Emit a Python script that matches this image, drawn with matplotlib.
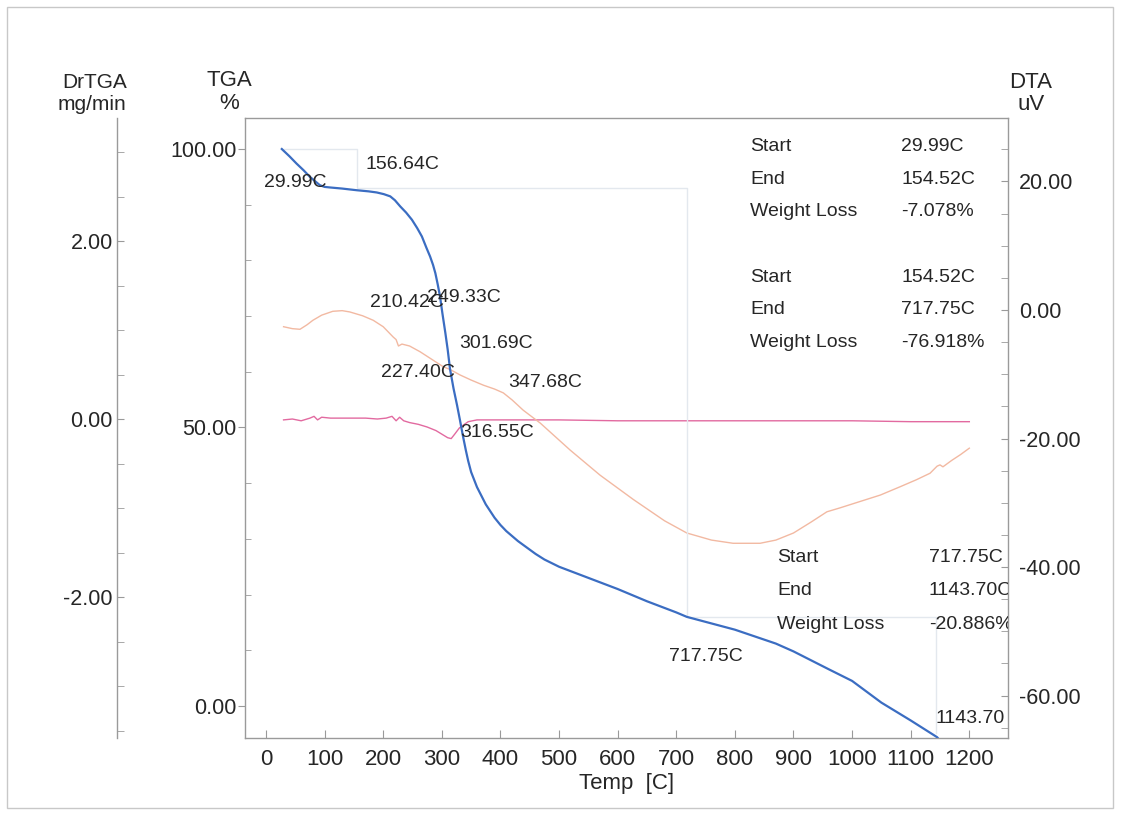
"""
TGA / DTA / DrTGA 热分析曲线
用法: python plot.py
"""
import matplotlib
matplotlib.use("Agg")
import matplotlib.pyplot as plt
from matplotlib.patches import Rectangle
from matplotlib.ticker import MultipleLocator, FixedLocator, FormatStrFormatter

# TGA 失重曲线 (温度 C, 质量 %)
tga_temp = [27, 40, 52, 64, 75, 84, 92, 100, 109, 130, 155, 175, 189, 201,
            212, 220, 229, 239, 249, 258, 266, 274, 280, 285, 289, 293, 297,
            301, 306, 310, 314, 320, 326, 331, 336, 341, 345, 350, 360, 375,
            390, 400, 410, 430, 460, 475, 500, 550, 600, 650, 700, 718, 800,
            870, 900, 960, 1000, 1050, 1100, 1145, 1152]
tga_pct = [100.0, 98.7, 97.4, 96.2, 95.0, 94.2, 93.5, 93.2, 93.1, 92.9, 92.6,
           92.4, 92.2, 91.9, 91.5, 90.8, 89.7, 88.6, 87.3, 85.8, 84.3, 82.2,
           80.7, 79.2, 77.7, 75.7, 73.5, 70.5, 67.0, 64.0, 60.5, 57.0, 54.0,
           51.3, 48.5, 45.9, 44.0, 42.0, 39.3, 36.2, 33.8, 32.5, 31.4, 29.6,
           27.3, 26.3, 25.0, 23.0, 21.0, 18.8, 16.8, 16.0, 13.7, 11.2, 9.8,
           6.6, 4.5, 0.6, -2.6, -5.6, -6.5]

# DTA 曲线 (uV)
dta_temp = [30, 45, 58, 70, 80, 95, 114, 130, 143, 165, 183, 200, 217, 222,
            226, 232, 245, 263, 285, 302, 315, 331, 350, 371, 390, 405, 420,
            439, 468, 519, 570, 627, 680, 718, 760, 797, 843, 870, 900, 930,
            957, 979, 1010, 1048, 1082, 1110, 1133, 1145, 1150, 1155, 1170,
            1185, 1200]
dta_uv = [-2.6, -2.9, -3.0, -2.3, -1.6, -0.8, -0.2, -0.1, -0.3, -0.9, -1.6,
          -2.6, -4.2, -4.6, -5.6, -5.3, -5.6, -6.5, -7.8, -8.8, -9.3, -10.1,
          -10.9, -11.7, -12.3, -12.9, -14.0, -15.6, -17.6, -21.8, -25.7,
          -29.5, -32.8, -34.7, -35.8, -36.3, -36.3, -35.8, -34.7, -33.0,
          -31.4, -30.8, -29.9, -28.8, -27.5, -26.4, -25.4, -24.3, -24.1,
          -24.4, -23.4, -22.5, -21.5]

# DrTGA 微分曲线 (mg/min)
drtga_temp = [30, 45, 60, 75, 82, 88, 95, 110, 130, 150, 170, 190, 205, 215,
              222, 228, 235, 245, 260, 275, 290, 300, 310, 316, 322, 330, 345,
              360, 400, 500, 600, 700, 800, 900, 1000, 1100, 1200]
drtga_val = [-0.01, 0.00, -0.02, 0.01, 0.03, -0.01, 0.02, 0.01, 0.01, 0.01,
             0.01, 0.00, 0.01, 0.03, -0.02, 0.02, -0.02, -0.04, -0.06, -0.09,
             -0.13, -0.17, -0.21, -0.22, -0.17, -0.10, -0.03, -0.01, -0.01,
             -0.01, -0.02, -0.02, -0.02, -0.02, -0.02, -0.03, -0.03]

# 失重台阶 (起点, 终点, 失重 %)
steps = [(29.99, 154.52, -7.078), (154.52, 717.75, -76.918),
         (717.75, 1143.70, -20.886)]

# 峰温标注 (文字, 温度, TGA 位置)
peak_labels = ["29.99C", "156.64C", "210.42C", "249.33C", "301.69C",
               "227.40C", "347.68C", "316.55C", "717.75C", "1143.70"]
peak_x = [-3.4, 170.6, 177.5, 274.7, 329, 196, 413, 331, 688, 1143]
peak_y = [93.9, 97.3, 72.4, 73.3, 65.1, 59.9, 58.1, 49.1, 8.8, -2.3]

# 失重表格位置
table_x = [826, 826, 872]
value_x = [1083.6, 1083.6, 1131]
table_y = [[100.5, 94.6, 88.7], [77.0, 71.1, 65.2], [26.6, 20.8, 14.7]]


def main():
    plt.rcParams['font.family'] = ['Liberation Sans', 'DejaVu Sans']
    plt.rcParams['axes.unicode_minus'] = False
    txt = '#262626'
    spine_c = '#9a9a9a'

    W, H = 1121, 813
    fig = plt.figure(figsize=(W / 100, H / 100), dpi=100)
    fig.patches.append(Rectangle((7 / W, 5 / H), 1106 / W, 801 / H,
                                 transform=fig.transFigure, fill=False,
                                 edgecolor='#c8c8c8', linewidth=1.0))

    left, right, top, bottom = 245, 1008, 118, 738
    ax = fig.add_axes([left / W, 1 - bottom / H, (right - left) / W,
                       (bottom - top) / H])
    ax_dr = ax.twinx()
    ax_dta = ax.twinx()

    # 坐标范围
    ax.set_xlim(-35.8, 1266)
    ax.set_ylim(-5.75, 105.57)
    ax_dr.set_ylim(-3.584, 3.382)
    ax_dta.set_ylim(-66.6, 29.88)

    for a in (ax, ax_dr, ax_dta):
        for s in a.spines.values():
            s.set_color(spine_c)
            s.set_linewidth(1.0)
            s.set_visible(False)
    ax.spines['left'].set_visible(True)
    ax.spines['bottom'].set_visible(True)
    ax.spines['top'].set_visible(True)
    ax_dta.spines['right'].set_visible(True)

    # DrTGA 轴放在最左边
    ax_dr.spines['left'].set_visible(True)
    ax_dr.spines['left'].set_position(('axes', -128 / (right - left)))
    ax_dr.yaxis.set_ticks_position('left')
    ax_dr.yaxis.set_label_position('left')

    # x 轴
    ax.set_xticks(range(0, 1201, 100))
    ax.tick_params(axis='x', direction='in', length=6, color=spine_c,
                   pad=8, labelsize=16, labelcolor=txt, top=False)
    ax.set_xlabel('Temp  [C]', fontsize=16, color=txt, labelpad=2)

    # TGA 轴
    ax.yaxis.set_major_locator(FixedLocator([0, 50, 100]))
    ax.yaxis.set_minor_locator(MultipleLocator(10))
    ax.yaxis.set_major_formatter(FormatStrFormatter('%.2f'))
    ax.tick_params(axis='y', which='major', direction='out', length=5,
                   color=spine_c, labelsize=15.5, labelcolor=txt, pad=1)
    ax.tick_params(axis='y', which='minor', direction='in', length=4,
                   color=spine_c)
    ax.tick_params(axis='x', which='minor', bottom=False)

    # DrTGA 轴
    ax_dr.yaxis.set_major_locator(FixedLocator([-2, 0, 2]))
    ax_dr.yaxis.set_minor_locator(MultipleLocator(0.5))
    ax_dr.yaxis.set_major_formatter(FormatStrFormatter('%.2f'))
    ax_dr.tick_params(axis='y', which='both', direction='in', length=5,
                      color=spine_c, labelsize=15.5, labelcolor=txt,
                      left=True, right=False, labelleft=True,
                      labelright=False, pad=3)

    # DTA 轴
    ax_dta.yaxis.set_major_locator(MultipleLocator(20))
    ax_dta.yaxis.set_minor_locator(MultipleLocator(5))
    ax_dta.yaxis.set_major_formatter(FormatStrFormatter('%.2f'))
    ax_dta.tick_params(axis='y', which='both', direction='in', length=5,
                       color=spine_c, labelsize=15.5, labelcolor=txt, pad=8)

    # 轴标题
    fig.text(95 / W, 1 - 82 / H, 'DrTGA', ha='center', va='center',
             fontsize=15, color=txt)
    fig.text(92 / W, 1 - 104 / H, 'mg/min', ha='center', va='center',
             fontsize=15, color=txt)
    fig.text(229 / W, 1 - 80 / H, 'TGA', ha='center', va='center',
             fontsize=16, color=txt)
    fig.text(229 / W, 1 - 103 / H, '%', ha='center', va='center',
             fontsize=16, color=txt)
    fig.text(1031 / W, 1 - 82 / H, 'DTA', ha='center', va='center',
             fontsize=16, color=txt)
    fig.text(1031 / W, 1 - 104 / H, 'uV', ha='center', va='center',
             fontsize=16, color=txt)

    # 失重台阶辅助线
    level = 100.0
    step_x = [steps[0][0]]
    step_y = [level]
    for start, end, loss in steps:
        step_x += [end, end]
        step_y += [level, level + loss]
        level += loss
    ax.plot(step_x, step_y, color='#e3e8ee', linewidth=1.0, zorder=1)

    # 曲线
    ax_dta.plot(dta_temp, dta_uv, color='#f2b9a2', linewidth=1.0, zorder=2)
    ax_dr.plot(drtga_temp, drtga_val, color='#e26aa0', linewidth=1.0,
               zorder=2)
    ax.plot(tga_temp, tga_pct, color='#3b6dc2', linewidth=1.6, zorder=3,
            solid_joinstyle='round')
    ax.set_zorder(ax_dta.get_zorder() + 1)
    ax.patch.set_visible(False)

    # 峰温标注
    for s, x, y in zip(peak_labels, peak_x, peak_y):
        ax.text(x, y, s, ha='left', va='center', fontsize=14, color=txt,
                zorder=5)

    # 失重表格
    for (start, end, loss), tx, vx, ys in zip(steps, table_x, value_x,
                                             table_y):
        names = ['Start', 'End', 'Weight Loss']
        vals = [f'{start:.2f}C', f'{end:.2f}C', f'{loss:.3f}%']
        for name, val, y in zip(names, vals, ys):
            ax.text(tx, y, name, ha='left', va='center', fontsize=14,
                    color=txt, clip_on=True)
            ax.text(vx, y, val, ha='left', va='center', fontsize=14,
                    color=txt, clip_on=True)

    plt.savefig('out.png', dpi=100)
    plt.close()


if __name__ == "__main__":
    main()
